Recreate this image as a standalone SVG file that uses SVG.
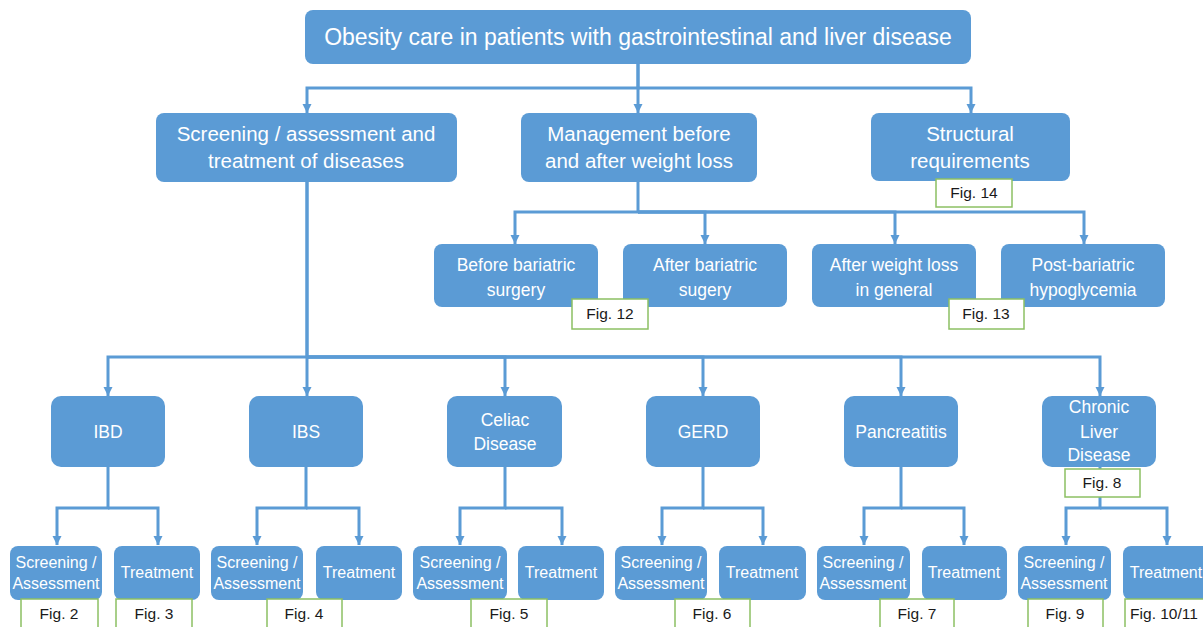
<svg xmlns="http://www.w3.org/2000/svg" width="1203" height="627" viewBox="0 0 1203 627">
<style>
.box{fill:#5B9BD5;}
.t{fill:#fff;font-family:"Liberation Sans",Arial,sans-serif;text-anchor:middle;}
.fig{fill:#fff;stroke:#8CC063;stroke-width:1.5;}
.ft{fill:#1a1a1a;font-family:"Liberation Sans",Arial,sans-serif;font-size:15.5px;text-anchor:middle;}
.c{fill:none;stroke:#5B9BD5;stroke-width:3;marker-end:url(#ah);}
</style>
<defs>
<marker id="ah" markerUnits="userSpaceOnUse" markerWidth="10" markerHeight="10" refX="9" refY="5" orient="auto" viewBox="0 0 10 10">
<path d="M0,0.5 L9,5 L0,9.5 Z" fill="#5B9BD5"/>
</marker>
</defs>
<rect width="1203" height="627" fill="#fff"/>
<g id="connectors">
<path class="c" d="M638,64 V88 H307 V113"/>
<path class="c" d="M638,64 V113"/>
<path class="c" d="M638,88 H971 V113"/>
<path class="c" d="M638,182 V212 H515 V244"/>
<path class="c" d="M638,212 H705 V244"/>
<path class="c" d="M638,212 H895 V244"/>
<path class="c" d="M638,212 H1084 V244"/>
<path class="c" d="M307,182 V357 H108 V396"/>
<path class="c" d="M307,182 V396"/>
<path class="c" d="M307,357 H505 V396"/>
<path class="c" d="M307,357 H703 V396"/>
<path class="c" d="M307,357 H901 V396"/>
<path class="c" d="M307,357 H1100 V396"/>
<path class="c" d="M108,467 V508 H57 V545"/><path class="c" d="M108,508 H158 V545"/>
<path class="c" d="M306,467 V508 H257 V545"/><path class="c" d="M306,508 H359 V545"/>
<path class="c" d="M505,467 V508 H460 V545"/><path class="c" d="M505,508 H562 V545"/>
<path class="c" d="M703,467 V508 H662 V545"/><path class="c" d="M703,508 H763 V545"/>
<path class="c" d="M901,467 V508 H864 V545"/><path class="c" d="M901,508 H964 V545"/>
<path class="c" d="M1100,467 V508 H1066 V545"/><path class="c" d="M1100,508 H1167 V545"/>
</g>
<g id="root"><rect class="box" x="305" y="10" width="666" height="54" rx="8"/><text class="t" x="638" y="45" font-size="23">Obesity care in patients with gastrointestinal and liver disease</text></g>
<g id="screening"><rect class="box" x="156" y="113" width="301" height="69" rx="8"/><text class="t" x="306" y="141" font-size="20.5">Screening / assessment and</text><text class="t" x="306" y="168" font-size="20.5">treatment of diseases</text></g>
<g id="management"><rect class="box" x="521" y="113" width="236" height="69" rx="8"/><text class="t" x="639" y="141" font-size="20.5">Management before</text><text class="t" x="639" y="168" font-size="20.5">and after weight loss</text></g>
<g id="structural"><rect class="box" x="871" y="113" width="199" height="68" rx="8"/><text class="t" x="970" y="141" font-size="20.5">Structural</text><text class="t" x="970" y="168" font-size="20.5">requirements</text></g>
<g id="fig14"><rect class="fig" x="936" y="179" width="76" height="28"/><text class="ft" x="974" y="198">Fig. 14</text></g>
<g id="before"><rect class="box" x="434" y="244" width="164" height="63" rx="8"/><text class="t" x="516" y="271" font-size="17.5">Before bariatric</text><text class="t" x="516" y="296" font-size="17.5">surgery</text></g>
<g id="after"><rect class="box" x="623" y="244" width="164" height="63" rx="8"/><text class="t" x="705" y="271" font-size="17.5">After bariatric</text><text class="t" x="705" y="296" font-size="17.5">sugery</text></g>
<g id="afterwl"><rect class="box" x="812" y="244" width="164" height="63" rx="8"/><text class="t" x="894" y="271" font-size="17.5">After weight loss</text><text class="t" x="894" y="296" font-size="17.5">in general</text></g>
<g id="postbar"><rect class="box" x="1001" y="244" width="164" height="63" rx="8"/><text class="t" x="1083" y="271" font-size="17.5">Post-bariatric</text><text class="t" x="1083" y="296" font-size="17.5">hypoglycemia</text></g>
<g id="fig12"><rect class="fig" x="572" y="299" width="76" height="30"/><text class="ft" x="610" y="319">Fig. 12</text></g>
<g id="fig13"><rect class="fig" x="949" y="299" width="75" height="30"/><text class="ft" x="986" y="319">Fig. 13</text></g>
<g id="ibd"><rect class="box" x="51" y="396" width="114" height="71" rx="10"/><text class="t" x="108" y="438" font-size="17.5">IBD</text></g>
<g id="ibs"><rect class="box" x="249" y="396" width="114" height="71" rx="10"/><text class="t" x="306" y="438" font-size="17.5">IBS</text></g>
<g id="celiac"><rect class="box" x="447" y="396" width="115" height="71" rx="10"/><text class="t" x="505" y="426" font-size="17.5">Celiac</text><text class="t" x="505" y="450" font-size="17.5">Disease</text></g>
<g id="gerd"><rect class="box" x="646" y="396" width="114" height="71" rx="10"/><text class="t" x="703" y="438" font-size="17.5">GERD</text></g>
<g id="pancreatitis"><rect class="box" x="844" y="396" width="114" height="71" rx="10"/><text class="t" x="901" y="438" font-size="17.5">Pancreatitis</text></g>
<g id="cld"><rect class="box" x="1042" y="396" width="114" height="71" rx="10"/><text class="t" x="1099" y="413" font-size="17.5">Chronic</text><text class="t" x="1099" y="438" font-size="17.5">Liver</text><text class="t" x="1099" y="461" font-size="17.5">Disease</text></g>
<g id="fig8"><rect class="fig" x="1065" y="469" width="75" height="28"/><text class="ft" x="1102" y="488">Fig. 8</text></g>
<g id="ibd-s"><rect class="box" x="10" y="546" width="92" height="54" rx="8"/><text class="t" x="56" y="568" font-size="16">Screening /</text><text class="t" x="56" y="589" font-size="16">Assessment</text></g>
<g id="ibd-t"><rect class="box" x="114" y="546" width="86" height="54" rx="8"/><text class="t" x="157" y="578" font-size="16">Treatment</text></g>
<g id="fig2"><rect class="fig" x="21" y="599" width="77" height="32"/><text class="ft" x="59" y="619">Fig. 2</text></g>
<g id="fig3"><rect class="fig" x="116" y="599" width="76" height="32"/><text class="ft" x="154" y="619">Fig. 3</text></g>
<g id="ibs-s"><rect class="box" x="211" y="546" width="92" height="54" rx="8"/><text class="t" x="257" y="568" font-size="16">Screening /</text><text class="t" x="257" y="589" font-size="16">Assessment</text></g>
<g id="ibs-t"><rect class="box" x="316" y="546" width="86" height="54" rx="8"/><text class="t" x="359" y="578" font-size="16">Treatment</text></g>
<g id="fig4"><rect class="fig" x="267" y="599" width="75" height="32"/><text class="ft" x="304" y="619">Fig. 4</text></g>
<g id="celiac-s"><rect class="box" x="413" y="546" width="94" height="54" rx="8"/><text class="t" x="460" y="568" font-size="16">Screening /</text><text class="t" x="460" y="589" font-size="16">Assessment</text></g>
<g id="celiac-t"><rect class="box" x="518" y="546" width="86" height="54" rx="8"/><text class="t" x="561" y="578" font-size="16">Treatment</text></g>
<g id="fig5"><rect class="fig" x="471" y="599" width="76" height="32"/><text class="ft" x="509" y="619">Fig. 5</text></g>
<g id="gerd-s"><rect class="box" x="615" y="546" width="92" height="54" rx="8"/><text class="t" x="661" y="568" font-size="16">Screening /</text><text class="t" x="661" y="589" font-size="16">Assessment</text></g>
<g id="gerd-t"><rect class="box" x="719" y="546" width="87" height="54" rx="8"/><text class="t" x="762" y="578" font-size="16">Treatment</text></g>
<g id="fig6"><rect class="fig" x="675" y="599" width="75" height="32"/><text class="ft" x="712" y="619">Fig. 6</text></g>
<g id="panc-s"><rect class="box" x="817" y="546" width="93" height="54" rx="8"/><text class="t" x="863" y="568" font-size="16">Screening /</text><text class="t" x="863" y="589" font-size="16">Assessment</text></g>
<g id="panc-t"><rect class="box" x="922" y="546" width="85" height="54" rx="8"/><text class="t" x="964" y="578" font-size="16">Treatment</text></g>
<g id="fig7"><rect class="fig" x="880" y="599" width="74" height="32"/><text class="ft" x="917" y="619">Fig. 7</text></g>
<g id="cld-s"><rect class="box" x="1018" y="546" width="93" height="54" rx="8"/><text class="t" x="1064" y="568" font-size="16">Screening /</text><text class="t" x="1064" y="589" font-size="16">Assessment</text></g>
<g id="cld-t"><rect class="box" x="1123" y="546" width="90" height="54" rx="8"/><text class="t" x="1166" y="578" font-size="16">Treatment</text></g>
<g id="fig9"><rect class="fig" x="1028" y="599" width="75" height="32"/><text class="ft" x="1065" y="619">Fig. 9</text></g>
<g id="fig1011"><rect class="fig" x="1125" y="599" width="85" height="32"/><text class="ft" x="1164" y="619">Fig. 10/11</text></g>
</svg>
